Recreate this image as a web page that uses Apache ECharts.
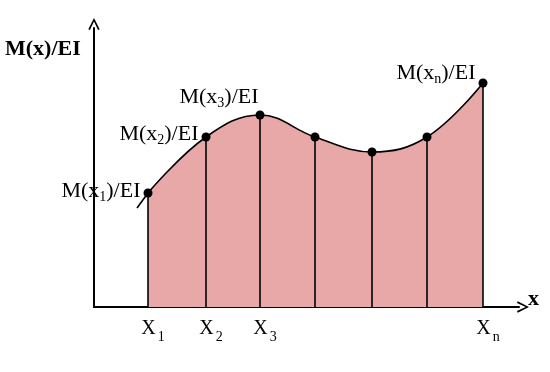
<!DOCTYPE html>
<html>
<head>
<meta charset="utf-8">
<style>html,body{margin:0;padding:0;background:#fff;}#c{width:550px;height:372px;}</style>
<script src="https://cdn.jsdelivr.net/npm/echarts@6/dist/echarts.min.js"></script>
</head>
<body>
<div id="c"></div>
<script>
// Data (arbitrary units)
var xs = [54, 112, 166, 221, 278, 333, 389];
var ys = [114, 170, 192, 170, 155, 170, 224];
var stub = [[43, 99], [54, 114]];
var pointLabels = ['1', '2', '3', null, null, null, 'n'];
var tickNames = ['1', '2', '3', null, null, null, 'n'];
var yName = 'M(x)/EI';
var xName = 'x';

var serif = 'Liberation Serif';
var curve = xs.map(function (x, i) { return [x, ys[i]]; });

function mLabel(sub) { return '{a|M(x}{s|' + sub + '}{a|)/EI}'; }

var labelPos = [
  { position: 'left', offset: [2, -2] },
  { position: 'left', offset: [2, -3] },
  { position: 'top', offset: [-41, 5] },
  null, null, null,
  { position: 'left', offset: [2, -10] }
];

var dotData = curve.map(function (p, i) {
  var d = { value: p };
  if (pointLabels[i] !== null) {
    d.label = {
      show: true,
      position: labelPos[i].position,
      offset: labelPos[i].offset,
      formatter: mLabel(pointLabels[i]),
      rich: {
        a: { fontFamily: serif, fontSize: 22, color: '#000' },
        s: { fontFamily: serif, fontSize: 14, color: '#000', padding: [13, 0, 0, 0] }
      }
    };
  }
  return d;
});

var tickData = [];
xs.forEach(function (x, i) {
  if (tickNames[i] !== null) {
    tickData.push({
      value: [x, 0],
      label: {
        show: true, position: 'bottom', distance: 7, offset: [5, 0],
        formatter: '{a|X}{s|' + tickNames[i] + '}',
        rich: {
          a: { fontFamily: serif, fontSize: 20, color: '#000' },
          s: { fontFamily: serif, fontSize: 14, color: '#000', padding: [16, 0, 0, 2] }
        }
      }
    });
  }
});

var vlines = curve.map(function (p) {
  return [{ coord: [p[0], 0] }, { coord: [p[0], p[1]] }];
});

var chevron = 'path://M0,10 L5,0 L10,10 L8.6,10.6 L5,3 L1.4,10.6 Z';

var chart = echarts.init(document.getElementById('c'), null, { renderer: 'canvas' });
chart.setOption({
  animation: false,
  backgroundColor: '#fff',
  title: [
    {
      text: yName, left: 0, top: 33,
      textStyle: { fontFamily: serif, fontSize: 22, fontWeight: 'bold', color: '#000' }
    },
    {
      text: xName, left: 523, top: 283,
      textStyle: { fontFamily: serif, fontSize: 22, fontWeight: 'bold', color: '#000' }
    }
  ],
  grid: { left: 94, right: 31, top: 28, bottom: 65 },
  xAxis: {
    type: 'value', min: 0, max: 425,
    axisLine: { show: true, onZero: false, symbol: ['none', chevron], symbolSize: [12, 12], symbolOffset: [0, 4], lineStyle: { color: '#000', width: 2 } },
    axisTick: { show: false }, axisLabel: { show: false }, splitLine: { show: false }
  },
  yAxis: {
    type: 'value', min: 0, max: 279,
    axisLine: { show: true, onZero: false, symbol: ['none', chevron], symbolSize: [12, 12], symbolOffset: [0, 4], lineStyle: { color: '#000', width: 2 } },
    axisTick: { show: false }, axisLabel: { show: false }, splitLine: { show: false }
  },
  series: [
    {
      type: 'line', data: curve, smooth: 0.4, symbol: 'none',
      lineStyle: { color: '#000', width: 1.6 },
      areaStyle: { color: '#E8A8A8', opacity: 1 },
      markLine: {
        symbol: ['none', 'none'], silent: true, label: { show: false },
        lineStyle: { color: '#000', width: 1.6, type: 'solid' },
        data: vlines
      },
      z: 2
    },
    {
      type: 'line', data: stub, symbol: 'none',
      lineStyle: { color: '#000', width: 1.6 }, z: 3
    },
    {
      type: 'scatter', data: dotData, symbolSize: 9,
      itemStyle: { color: '#000', opacity: 1 }, z: 5
    },
    {
      type: 'scatter', data: tickData, symbolSize: 0,
      itemStyle: { color: '#000', opacity: 1 }, z: 5
    }
  ]
});
</script>
</body>
</html>
